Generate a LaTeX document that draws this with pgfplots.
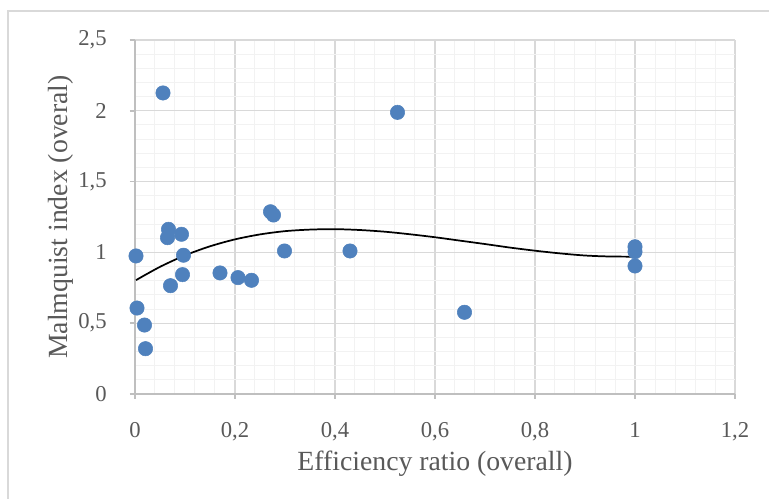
\documentclass[border=0pt]{standalone}
\usepackage{pgfplots}
\pgfplotsset{compat=1.18}
\usepackage{fontspec}
\setmainfont{Liberation Serif}
\definecolor{ptblue}{HTML}{4F81BD}
\definecolor{majgrid}{HTML}{D9D9D9}
\definecolor{mingrid}{HTML}{F2F2F2}
\definecolor{axgray}{HTML}{BFBFBF}
\definecolor{txtgray}{HTML}{595959}
\definecolor{border}{HTML}{D9D9D9}
\begin{document}
\begin{tikzpicture}
\useasboundingbox (-101.25pt,-78.75pt) rectangle (475.5pt,295.5pt);
\fill[white] (-101.25pt,-78.75pt) rectangle (475.5pt,295.5pt);
\draw[border, line width=1pt] (-95.25pt,-90pt) -- (-95.25pt,287.25pt) -- (490pt,287.25pt);
\begin{axis}[
  scale only axis,
  width=450pt, height=265.5pt,
  xmin=0, xmax=1.2, ymin=0, ymax=2.5,
  xtick distance=0.2, ytick distance=0.5,
  minor x tick num=4, minor y tick num=4,
  grid=both,
  major grid style={majgrid, line width=1pt},
  minor grid style={mingrid, line width=0.75pt},
  axis lines*=left,
  axis line style={axgray, line width=1.5pt, -},
  tick align=outside,
  major tick length=3.75pt,
  minor tick length=0pt,
  major tick style={axgray, line width=1.2pt},
  /pgf/number format/use comma,
  /pgf/number format/assume math mode=true,
  tick label style={font=\fontsize{17}{20}\selectfont, text=txtgray},
  xticklabel style={anchor=base, inner sep=0pt, yshift=-29.25pt},
  yticklabel style={anchor=east, inner sep=0pt, xshift=-17.25pt},
  label style={font=\fontsize{20.8}{24}\selectfont, text=txtgray},
  xlabel={Efficiency ratio (overall)},
  ylabel={Malmquist index (overal)},
  xlabel style={at={(axis description cs:0.5,-0.2175)}, anchor=base, inner sep=0pt},
  ylabel style={at={(axis description cs:-0.1133,0.5)}, anchor=base, inner sep=0pt},
  clip=false,
]
\addplot[only marks, mark=*, mark size=5.4pt, mark options={fill=ptblue, draw=ptblue}] coordinates {
(0.056,2.126) (0.525,1.989) (0.271,1.287) (0.277,1.264) (0.067,1.163)
(0.065,1.104) (0.093,1.128) (0.002,0.975) (0.097,0.980) (0.299,1.010)
(0.430,1.010) (0.095,0.843) (0.170,0.855) (0.206,0.822) (0.233,0.803)
(0.071,0.765) (0.004,0.607) (0.019,0.487) (0.021,0.320) (0.659,0.577)
(1.000,1.040) (1.000,1.005) (1.000,0.904)
};
\addplot[black, line width=1.3pt, smooth] coordinates {
(0.002,0.804) (0.05,0.898) (0.1,0.979) (0.15,1.043) (0.2,1.092) (0.25,1.127)
(0.3,1.150) (0.35,1.161) (0.4,1.164) (0.45,1.158) (0.5,1.146) (0.55,1.128)
(0.6,1.107) (0.65,1.083) (0.7,1.059) (0.75,1.034) (0.8,1.012) (0.85,0.993)
(0.9,0.978) (0.95,0.971) (1.0,0.970)
};
\end{axis}
\end{tikzpicture}
\end{document}
